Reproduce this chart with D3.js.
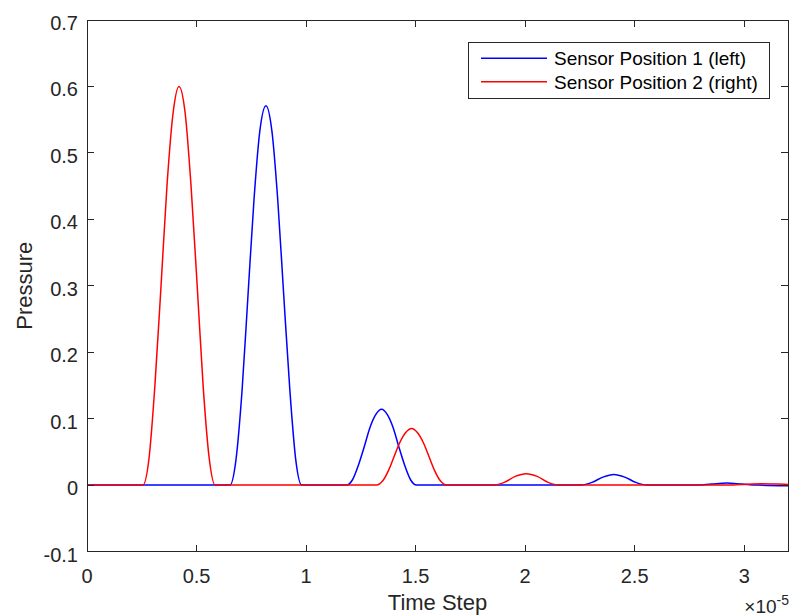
<!DOCTYPE html>
<html>
<head>
<meta charset="utf-8">
<script src="https://cdn.jsdelivr.net/npm/d3@7"></script>
<style>
    body { margin: 0; background: #fff; }
    svg { display: block; font-family: "Liberation Sans", Arial, Helvetica, sans-serif; }
</style>
</head>
<body>
<div id="chart"></div>
<script>
// Time values are in units of 1e-5 (shown as the x10^-5 multiplier)
const blueTime = [0, 0.653, 0.680, 0.708, 0.735, 0.762, 0.789, 0.817, 0.844, 0.871, 0.898, 0.926, 0.953, 0.980,
    1.185, 1.212, 1.238, 1.265, 1.291, 1.318, 1.345, 1.371, 1.398, 1.424, 1.451, 1.477, 1.504,
    2.255, 2.305, 2.355, 2.405, 2.455, 2.505, 2.555,
    2.78, 2.85, 2.92, 2.99, 3.06, 3.2];
const bluePressure = [0, 0, 0.038, 0.143, 0.286, 0.428, 0.533, 0.571, 0.533, 0.428, 0.286, 0.143, 0.038, 0,
    0, 0.008, 0.029, 0.057, 0.086, 0.106, 0.114, 0.106, 0.086, 0.057, 0.029, 0.008, 0,
    0, 0.004, 0.012, 0.016, 0.012, 0.004, 0,
    0, 0.0015, 0.003, 0.0015, 0, -0.001];

const redTime = [0, 0.255, 0.283, 0.310, 0.338, 0.365, 0.393, 0.420, 0.448, 0.475, 0.503, 0.530, 0.558, 0.585,
    1.322, 1.349, 1.375, 1.402, 1.428, 1.455, 1.482, 1.508, 1.535, 1.561, 1.588, 1.614, 1.641,
    1.855, 1.905, 1.955, 2.005, 2.055, 2.105, 2.155,
    2.95, 3.01, 3.08, 3.14, 3.2];
const redPressure = [0, 0, 0.040, 0.150, 0.300, 0.450, 0.560, 0.600, 0.560, 0.450, 0.300, 0.150, 0.040, 0,
    0, 0.006, 0.021, 0.043, 0.064, 0.079, 0.085, 0.079, 0.064, 0.043, 0.021, 0.006, 0,
    0, 0.004, 0.013, 0.017, 0.013, 0.004, 0,
    0, 0.0012, 0.002, 0.0016, 0.001];

const xTicks = [0, 0.5, 1, 1.5, 2, 2.5, 3];
const yTicks = [-0.1, 0, 0.1, 0.2, 0.3, 0.4, 0.5, 0.6, 0.7];

const seriesInfo = [
    { label: "Sensor Position 1 (left)", color: "#0000ff", time: blueTime, values: bluePressure },
    { label: "Sensor Position 2 (right)", color: "#ff0000", time: redTime, values: redPressure }
];

const width = 791, height = 616;
const margin = { top: 20, right: 3, bottom: 64.5, left: 87 };
const axisColor = "#262626";
const tickLen = 7;

const svg = d3.select("#chart").append("svg")
    .attr("width", width)
    .attr("height", height);

const x = d3.scaleLinear().domain([0, 3.2]).range([margin.left, width - margin.right]);
const y = d3.scaleLinear().domain([-0.1, 0.7]).range([height - margin.bottom, margin.top]);

// Draw data lines first so the box sits on top
const plot = svg.append("g");
plot.append("clipPath").attr("id", "clip")
    .append("rect")
    .attr("x", x(0)).attr("y", y(0.7))
    .attr("width", x(3.2) - x(0)).attr("height", y(-0.1) - y(0.7));

seriesInfo.forEach(s => {
    const pts = s.time.map((t, i) => [t, s.values[i]]);
    const line = d3.line()
        .x(d => x(d[0]))
        .y(d => y(d[1]))
        .curve(d3.curveMonotoneX);
    plot.append("path")
        .datum(pts)
        .attr("clip-path", "url(#clip)")
        .attr("fill", "none")
        .attr("stroke", s.color)
        .attr("stroke-width", 1.5)
        .attr("d", line);
});

// Axes box with ticks pointing inward on all four sides
const axes = svg.append("g")
    .attr("stroke", axisColor)
    .attr("stroke-width", 1)
    .attr("shape-rendering", "crispEdges");

axes.append("rect")
    .attr("x", x(0)).attr("y", y(0.7))
    .attr("width", x(3.2) - x(0)).attr("height", y(-0.1) - y(0.7))
    .attr("fill", "none");

xTicks.forEach(t => {
    axes.append("line").attr("x1", x(t)).attr("x2", x(t))
        .attr("y1", y(-0.1)).attr("y2", y(-0.1) - tickLen);
    axes.append("line").attr("x1", x(t)).attr("x2", x(t))
        .attr("y1", y(0.7)).attr("y2", y(0.7) + tickLen);
});
yTicks.forEach(t => {
    axes.append("line").attr("y1", y(t)).attr("y2", y(t))
        .attr("x1", x(0)).attr("x2", x(0) + tickLen);
    axes.append("line").attr("y1", y(t)).attr("y2", y(t))
        .attr("x1", x(3.2)).attr("x2", x(3.2) - tickLen);
});

// Tick labels
svg.selectAll(".xlab")
    .data(xTicks)
    .join("text")
    .attr("class", "xlab")
    .attr("x", d => x(d))
    .attr("y", y(-0.1) + 31)
    .attr("text-anchor", "middle")
    .attr("fill", axisColor)
    .style("font-size", "20px")
    .text(d => d);

svg.selectAll(".ylab")
    .data(yTicks)
    .join("text")
    .attr("class", "ylab")
    .attr("x", x(0) - 9)
    .attr("y", d => y(d) + 10)
    .attr("text-anchor", "end")
    .attr("fill", axisColor)
    .style("font-size", "20px")
    .text(d => d);

// Exponent label, kept just inside the bottom edge
const expo = svg.append("text")
    .attr("x", 789)
    .attr("y", 613)
    .attr("text-anchor", "end")
    .attr("fill", axisColor)
    .style("font-size", "19px");
expo.append("tspan").text("\u00d710");
expo.append("tspan").attr("dy", -8).style("font-size", "14px").text("-5");

// Axis titles
svg.append("text")
    .attr("x", (x(0) + x(3.2)) / 2)
    .attr("y", 610)
    .attr("text-anchor", "middle")
    .attr("fill", axisColor)
    .style("font-size", "22px")
    .text("Time Step");

svg.append("text")
    .attr("transform", `translate(32, ${(y(-0.1) + y(0.7)) / 2}) rotate(-90)`)
    .attr("text-anchor", "middle")
    .attr("fill", axisColor)
    .style("font-size", "22px")
    .text("Pressure");

// Legend
const legend = svg.append("g").attr("transform", "translate(468, 42)");
legend.append("rect")
    .attr("width", 301)
    .attr("height", 56)
    .attr("fill", "white")
    .attr("stroke", axisColor)
    .attr("stroke-width", 1)
    .attr("shape-rendering", "crispEdges");

seriesInfo.forEach((s, i) => {
    const row = legend.append("g").attr("transform", `translate(0, ${16.3 + i * 23.4})`);
    row.append("line")
        .attr("x1", 13).attr("x2", 79)
        .attr("stroke", s.color)
        .attr("stroke-width", 1.5);
    row.append("text")
        .attr("x", 86)
        .attr("y", 7)
        .attr("fill", "#000")
        .style("font-size", "19px")
        .text(s.label);
});
</script>
</body>
</html>
